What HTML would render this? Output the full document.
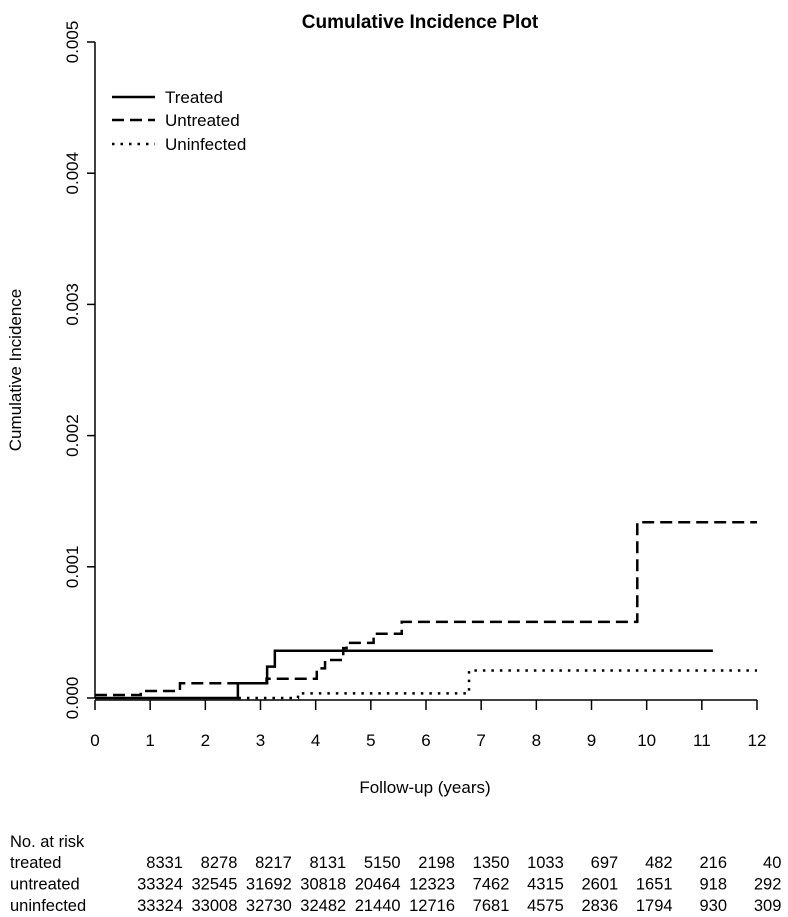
<!DOCTYPE html>
<html><head><meta charset="utf-8"><style>
body{margin:0;background:#fff;}
svg{display:block;font-family:"Liberation Sans",Arial,sans-serif;}
</style></head><body>
<svg id="chart" width="788" height="917" viewBox="0 0 788 917" xmlns="http://www.w3.org/2000/svg">
<text x="420" y="28" text-anchor="middle" font-size="19" font-weight="bold">Cumulative Incidence Plot</text>
<g id="axes"></g>
<g id="series"></g>
<g>
<line x1="112" y1="97" x2="155" y2="97" stroke="#000" stroke-width="2.5"/>
<text x="165" y="103" font-size="17">Treated</text>
<line x1="112" y1="120" x2="155" y2="120" stroke="#000" stroke-width="2.5" stroke-dasharray="12,6"/>
<text x="165" y="126" font-size="17">Untreated</text>
<line x1="112" y1="144" x2="155" y2="144" stroke="#000" stroke-width="2.5" stroke-dasharray="2.5,6"/>
<text x="165" y="150" font-size="17">Uninfected</text>
</g>
<text transform="translate(21,370) rotate(-90)" text-anchor="middle" font-size="17">Cumulative Incidence</text>
<text x="425" y="793" text-anchor="middle" font-size="17">Follow-up (years)</text>
<g id="risk" font-size="16.5"></g>
</svg>
<script>
const xTicks=[0,1,2,3,4,5,6,7,8,9,10,11,12];
const yTicks=[0,0.001,0.002,0.003,0.004,0.005];
const yTickLabels=["0.000","0.001","0.002","0.003","0.004","0.005"];
const treatedT=[0,2.59,3.12,3.26,11.2];
const treatedV=[0,0.000112,0.000239,0.00036,0.00036];
const untreatedT=[0,0.83,1.54,3.11,4.02,4.17,4.5,4.56,5.05,5.56,9.83,12];
const untreatedV=[0.000023,0.000053,0.000112,0.000147,0.000226,0.00029,0.00038,0.00042,0.00049,0.00058,0.00134,0.00134];
const uninfT=[2.6,3.68,6.78,12];
const uninfV=[0,0.000035,0.00021,0.00021];
const riskRows=["treated","untreated","uninfected"];
const riskTreated=[8331,8278,8217,8131,5150,2198,1350,1033,697,482,216,40];
const riskUntreated=[33324,32545,31692,30818,20464,12323,7462,4315,2601,1651,918,292];
const riskUninf=[33324,33008,32730,32482,21440,12716,7681,4575,2836,1794,930,309];

const NS="http://www.w3.org/2000/svg";
const X=v=>95+v*(662/12);
const Y=v=>698-v*131.2/0.001;
function mk(tag,attrs,parent){const e=document.createElementNS(NS,tag);for(const k in attrs)e.setAttribute(k,attrs[k]);parent.appendChild(e);return e;}
const ax=document.getElementById('axes');
let l=mk('line',{x1:95,y1:Y(0.005),x2:95,y2:Y(0),stroke:'#000','stroke-width':1.5},ax);


yTicks.forEach((t,i)=>{
 const tk=mk('line',{x1:87,y1:Y(t),x2:95,y2:Y(t),stroke:'#000','stroke-width':1.5},ax);
 
 
 const tx=mk('text',{transform:`translate(78,${Y(t)}) rotate(-90)`,'text-anchor':'middle','font-size':17},ax);
 tx.textContent=yTickLabels[i];
 
 
});
l=mk('line',{x1:X(0),y1:700,x2:X(12),y2:700,stroke:'#000','stroke-width':1.5},ax);


xTicks.forEach(t=>{
 const tk=mk('line',{x1:X(t),y1:700,x2:X(t),y2:710,stroke:'#000','stroke-width':1.5},ax);
 
 
 const tx=mk('text',{x:X(t),y:746,'text-anchor':'middle','font-size':17},ax);
 tx.textContent=t;
 
 
});
function step(T,V){let d=`M${X(T[0])},${Y(V[0])}`;for(let i=1;i<T.length;i++){d+=` H${X(T[i])} V${Y(V[i])}`;}return d;}
const sg=document.getElementById('series');
let p=mk('path',{d:step(treatedT,treatedV),fill:'none',stroke:'#000','stroke-width':2.5},sg);


p=mk('path',{d:step(untreatedT,untreatedV),fill:'none',stroke:'#000','stroke-width':2.5,'stroke-dasharray':'12,6'},sg);


p=mk('path',{d:step(uninfT,uninfV),fill:'none',stroke:'#000','stroke-width':2.5,'stroke-dasharray':'2.5,6'},sg);


const rg=document.getElementById('risk');
let h=mk('text',{x:10,y:847},rg);h.textContent='No. at risk';


[riskTreated,riskUntreated,riskUninf].forEach((row,r)=>{
 const y=868+r*21.5;
 const lb=mk('text',{x:10,y:y},rg);lb.textContent=riskRows[r];
 
 
 row.forEach((v,i)=>{
  const t=mk('text',{x:183+i*54.4,y:y,'text-anchor':'end'},rg);t.textContent=v;
  
  
 });
});
</script>
</body></html>
